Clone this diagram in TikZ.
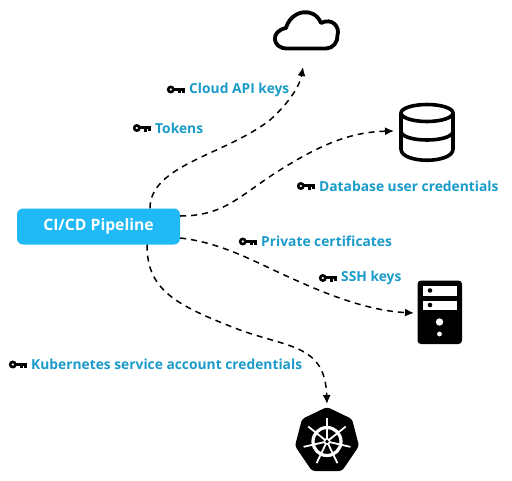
\documentclass[tikz,border=0pt]{standalone}
\usepackage{fontspec}
\setmainfont{Open Sans}
\usetikzlibrary{arrows.meta}
\definecolor{pipeblue}{HTML}{1FB9F5}
\definecolor{labelblue}{HTML}{1A9BC9}
\tikzset{
  link/.style={line width=1.5pt,dash pattern=on 6pt off 5pt,-{Latex[length=9pt,width=8pt]}},
  lbl/.style={anchor=west,inner sep=0pt,text=labelblue,font=\fontsize{13.8}{15}\selectfont\bfseries},
  pipebox/.style={fill=pipeblue,rounded corners=6pt,minimum width=163pt,minimum height=36pt,inner sep=0pt,text=white,font=\fontsize{15.7}{18}\selectfont\bfseries},
  keyicon/.pic={
    \draw[line width=2.6pt,black] (3.8,0) circle (2.6pt);
    \fill[black] (6.5,-1.6) rectangle (18,1.0);
    \fill[black] (11,0) rectangle (14,3.8);
    \fill[black] (15,0) rectangle (18,3.4);
  }
}
\begin{document}
\begin{tikzpicture}[x=1pt,y=-1pt]
\useasboundingbox (0,0) rectangle (512,480);
\node[pipebox] (pipe) at (98.5,226.5) {CI/CD Pipeline};

% cloud
\coordinate (cloud) at (303,67);
\draw[line width=3.8pt,line join=round,black] (287,48.5) .. controls (272,48.5) and (270,31) .. (286,28)
  .. controls (291,10) and (314,6) .. (321,23) .. controls (333,17) and (340,28) .. (337.5,35)
  .. controls (338,42) and (333,48.5) .. (326,48.5) -- cycle;

% database
\coordinate (db) at (394,131);
\draw[line width=3.6pt,black] (401,113) -- (401,149) .. controls (401,164) and (453,164) .. (453,149) -- (453,113);
\draw[line width=3.6pt,black] (427,113) ellipse (26pt and 8.5pt);
\draw[line width=3.6pt,black] (401,131) .. controls (401,143) and (453,143) .. (453,131);

% server
\coordinate (srv) at (414,313);
\fill[black,rounded corners=3.5pt] (417.5,280.5) rectangle (462,344);
\fill[white] (422.5,285.5) rectangle (457,295.5);
\fill[white] (422.5,300.5) rectangle (457,310);
\fill[black] (430,290.5) circle (2.3pt);
\fill[black] (430,305) circle (2.3pt);
\fill[white] (439.5,322) circle (3.7pt);
\fill[white] (439.5,334) circle (2.4pt);

% kubernetes
\coordinate (kube) at (327,404);
\fill[black,rounded corners=3pt] (327,407) -- (352,419) -- (359,446) -- (342,471) -- (312,471) -- (295,446) -- (302,419) -- cycle;
\draw[white,line width=3.2pt] (327,441.5) circle (14pt);
\fill[white] (327,441.5) circle (3.5pt);
\fill[black] (327,441.5) circle (1.8pt);
\foreach \a in {90,141.4,192.9,244.3,295.7,347.1,38.6}{
  \draw[white,line width=1.8pt] (327,441.5) ++(\a:3pt) -- ++(\a:21pt);
}

% connectors
\draw[link] (pipe.north west -| 150,208) .. controls (150,165) and (225,155) .. (270,120) .. controls (290,102) and (300,85) .. (cloud);
\draw[link] (pipe.east |- 0,216) .. controls (225,216) and (240,195) .. (280,170) .. controls (320,145) and (350,132) .. (db);
\draw[link] (pipe.east |- 0,238) .. controls (225,243) and (260,265) .. (300,282) .. controls (340,300) and (375,311) .. (srv);
\draw[link] (pipe.south west -| 147,245) .. controls (147,290) and (175,305) .. (240,330) .. controls (290,348) and (325,345) .. (kube);

% labels
\pic at (167,89.5) {keyicon};
\node[lbl] (l1) at (189,89.5) {Cloud API keys};
\pic at (133,128) {keyicon};
\node[lbl] (l2) at (155,128) {Tokens};
\pic at (297,186) {keyicon};
\node[lbl] (l3) at (319,186) {Database user credentials};
\pic at (239,241.5) {keyicon};
\node[lbl] (l4) at (261,241.5) {Private certificates};
\pic at (319,278) {keyicon};
\node[lbl] (l5) at (341,278) {SSH keys};
\pic at (9,364.5) {keyicon};
\node[lbl] (l6) at (31,364.5) {Kubernetes service account credentials};
\end{tikzpicture}
\end{document}
